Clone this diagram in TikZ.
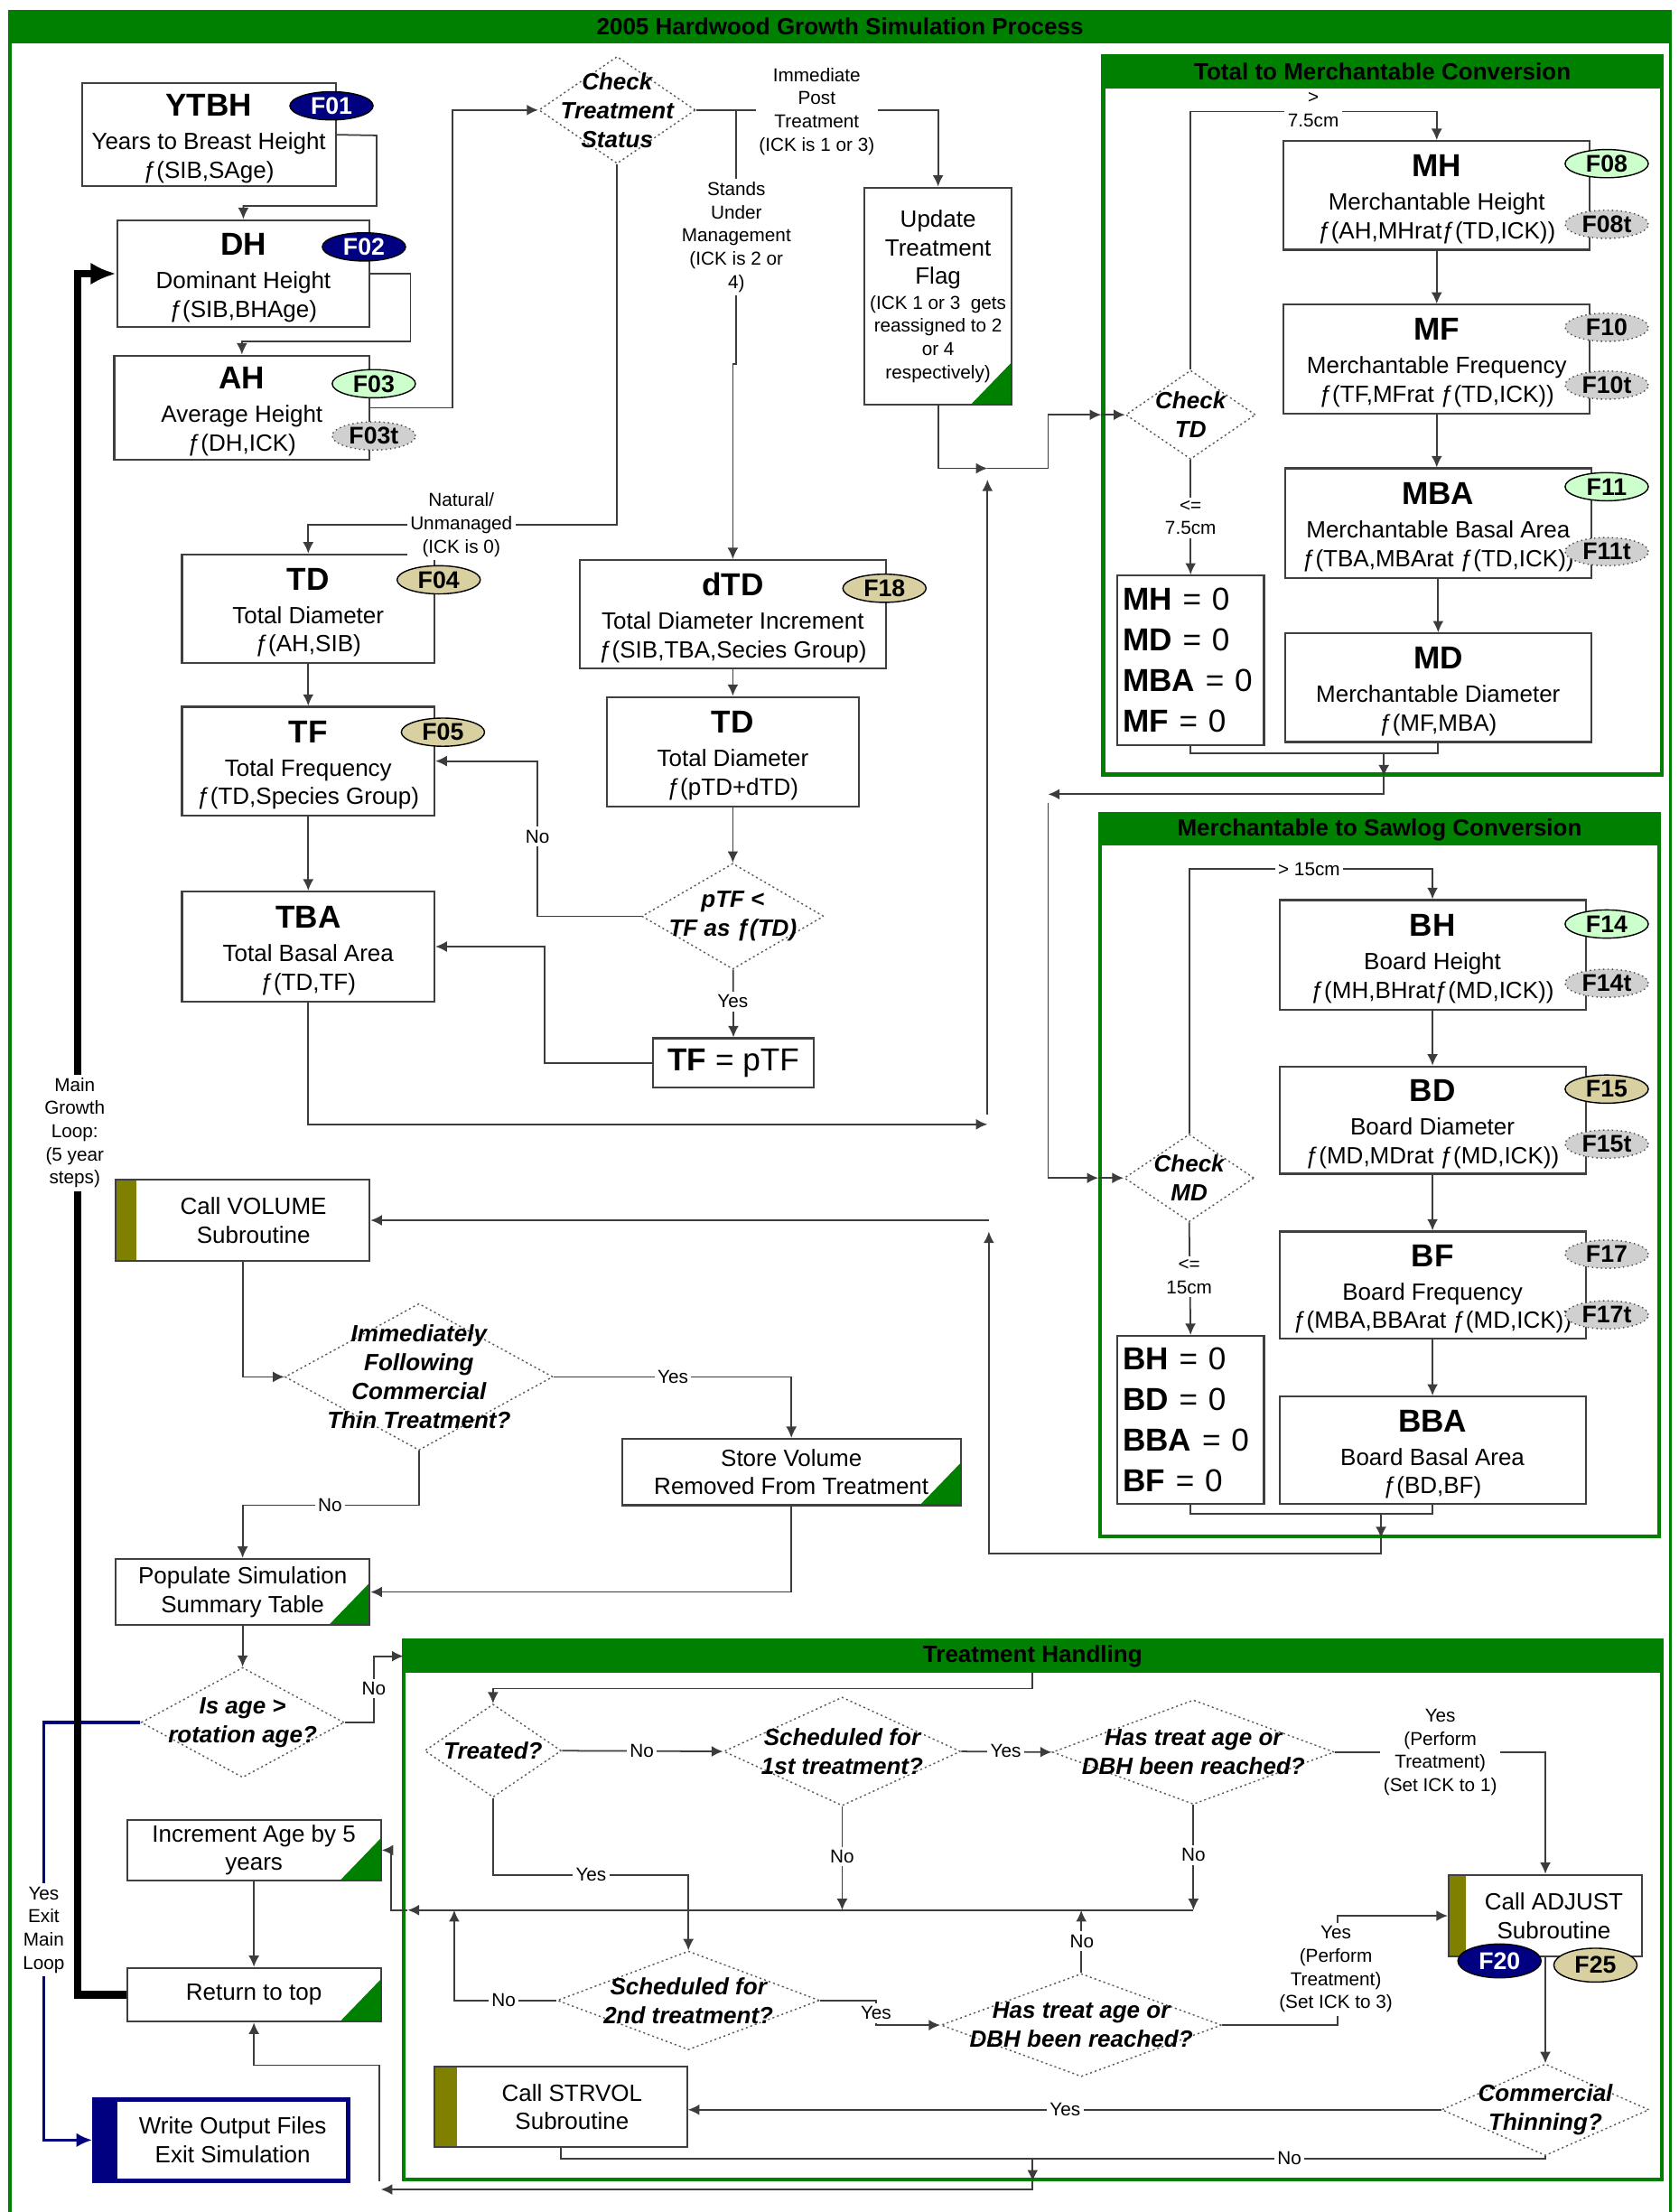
\documentclass[tikz,border=0pt]{standalone}
\usepackage{fontspec}
\setmainfont{Liberation Sans}
\usetikzlibrary{shapes.geometric, arrows.meta, positioning}

\definecolor{hdgreen}{RGB}{0,128,0}
\definecolor{oliv}{RGB}{128,128,0}
\definecolor{bnavy}{RGB}{0,0,128}
\definecolor{bgreen}{RGB}{204,255,204}
\definecolor{btan}{RGB}{216,208,160}
\definecolor{bgray}{RGB}{208,208,208}
\definecolor{lnclr}{RGB}{60,60,60}

\newcommand\bodyfont{\fontsize{7.4}{9}\selectfont}
\newcommand\lblfont{\fontsize{5.9}{7.3}\selectfont}
\newcommand\bigfont{\fontsize{10}{12}\selectfont\bfseries}
\newcommand\zerofont{\fontsize{10}{12.75}\selectfont}
\newcommand\hd[1]{{\bigfont\rule{0pt}{9.4pt}#1}}

\begin{document}
\begin{tikzpicture}[x=0.15622mm, y=-0.15622mm,
  every node/.style={font=\bodyfont, align=center, inner sep=1pt},
  sz/.style 2 args={minimum width=#1*0.15622mm, minimum height=#2*0.15622mm},
  box/.style={draw=black!75, fill=white, line width=0.6pt},
  doc/.style={box, path picture={\fill[hdgreen] (path picture bounding box.south east)
      -- ++(0,-30) -- ++(-29,30) -- cycle;}},
  sub/.style 2 args={box, path picture={\fill[#1] (path picture bounding box.south west)
      rectangle ([xshift=#2]path picture bounding box.north west);}},
  dia/.style={diamond, draw=black!65, line width=0.4pt, dash pattern=on 0.6pt off 0.9pt,
      fill=white, inner sep=0pt},
  dtxt/.style={font=\fontsize{7.4}{9.1}\selectfont\bfseries\itshape, align=center},
  badge/.style={ellipse, sz={59}{20}, inner sep=0pt, font=\fontsize{7.6}{8}\selectfont\bfseries},
  fnavy/.style={badge, draw=black, fill=bnavy, text=white},
  fgreen/.style={badge, draw=black, fill=bgreen},
  ftan/.style={badge, draw=black, fill=btan},
  fgray/.style={badge, draw=black!70, densely dotted, fill=bgray},
  sect/.style={draw=hdgreen, line width=1.2pt},
  sechdr/.style={fill=hdgreen, draw=hdgreen, inner sep=0pt, font=\fontsize{7.4}{9}\selectfont\bfseries},
  lbl/.style={font=\lblfont, fill=white, inner sep=1pt},
  arr/.style={-{Latex[length=3.6pt,width=3.4pt]}, draw=lnclr, line width=0.5pt},
  ln/.style={draw=lnclr, line width=0.5pt},
  loopln/.style={-{Latex[length=8pt,width=7pt]}, line width=2.4pt},
  exitln/.style={-{Latex[length=5pt,width=4.5pt]}, draw=bnavy, line width=1pt}
]
  \useasboundingbox (0,0) rectangle (1190,1568);

  \draw[hdgreen, line width=1pt] (7,1568) -- (7,8) -- (1184,8) -- (1184,1568);
  \node (title) at (595.5,19) [sechdr, sz={1178}{23}] {2005 Hardwood Growth Simulation Process};

  \node (s1)  at (980,294.5) [sect, sz={396}{509}] {};
  \node (s1h) at (980,51)    [sechdr, sz={396}{22}] {Total to Merchantable Conversion};
  \node (s2)  at (978,833)   [sect, sz={396}{512}] {};
  \node (s2h) at (978,588)   [sechdr, sz={396}{22}] {Merchantable to Sawlog Conversion};
  \node (th)  at (732,1354)  [sect, sz={892}{382}] {};
  \node (thh) at (732,1174)  [sechdr, sz={892}{22}] {Treatment Handling};

  \node (ytbh) at (148,95.5) [box, sz={180}{73}]
       {\hd{YTBH}\\[1.5pt] Years to Breast Height\\ ƒ(SIB,SAge)};
  \node (dh)   at (172.5,194) [box, sz={179}{76}]
       {\hd{DH}\\[1.5pt] Dominant Height\\ ƒ(SIB,BHAge)};
  \node (ah)   at (171.5,289) [box, sz={181}{74}]
       {\hd{AH}\\[1.5pt] Average Height\\ ƒ(DH,ICK)};
  \node (td)   at (218.5,431.5) [box, sz={179}{77}]
       {\hd{TD}\\[1.5pt] Total Diameter\\ ƒ(AH,SIB)};
  \node (tf)   at (218.5,539.5) [box, sz={179}{77}]
       {\hd{TF}\\[1.5pt] Total Frequency\\ ƒ(TD,Species Group)};
  \node (tba)  at (218.5,671) [box, sz={179}{78}]
       {\hd{TBA}\\[1.5pt] Total Basal Area\\ ƒ(TD,TF)};
  \node (dtd)  at (519.5,435.5) [box, sz={217}{77}]
       {\hd{dTD}\\[1.5pt] Total Diameter Increment\\ ƒ(SIB,TBA,Secies Group)};
  \node (tdb)  at (519.5,533) [box, sz={179}{78}]
       {\hd{TD}\\[1.5pt] Total Diameter\\ ƒ(pTD+dTD)};
  \node (tfeq) at (520,753.5) [box, sz={114}{35}, font=\zerofont] {\textbf{TF} = pTF};
  \node (upd)  at (665,210) [doc, sz={104}{154}]
       {Update\\ Treatment\\ Flag\\[-1.2pt] {\lblfont (ICK 1 or 3\ \ gets}\\[-1.7pt]
        {\lblfont reassigned to 2}\\[-1.7pt] {\lblfont or 4}\\[-1.7pt] {\lblfont respectively)}};

  \node (cts) at (437.5,78) [dia, sz={111}{76},
        label={[dtxt]center:{Check\\Treatment\\Status}}] {};
  \node (ptf) at (519.5,649.5) [dia, sz={129}{75},
        label={[dtxt]center:{pTF <\\TF as ƒ(TD)}}] {};

  \node (ctd) at (844,294) [dia, sz={92}{63}, label={[dtxt]center:{Check\\TD}}] {};
  \node (mh)  at (1018.5,138.5) [box, sz={217}{77}]
       {\hd{MH}\\[1.5pt] Merchantable Height\\ ƒ(AH,MHratƒ(TD,ICK))};
  \node (mf)  at (1018.5,254.5) [box, sz={217}{77}]
       {\hd{MF}\\[1.5pt] Merchantable Frequency\\ ƒ(TF,MFrat ƒ(TD,ICK))};
  \node (mba) at (1019.5,371) [box, sz={217}{78}]
       {\hd{MBA}\\[1.5pt] Merchantable Basal Area\\ ƒ(TBA,MBArat ƒ(TD,ICK))};
  \node (md)  at (1019.5,487.5) [box, sz={217}{77}]
       {\hd{MD}\\[1.5pt] Merchantable Diameter\\ ƒ(MF,MBA)};
  \node (zm)  at (844,468) [box, sz={104}{120}, align=left, text width=15mm, font=\zerofont]
       {\textbf{MH} = 0\\ \textbf{MD} = 0\\ \textbf{MBA} = 0\\ \textbf{MF} = 0};

  \node (cmd) at (843,835) [dia, sz={92}{62}, label={[dtxt]center:{Check\\MD}}] {};
  \node (bh)  at (1015.5,677) [box, sz={217}{78}]
       {\hd{BH}\\[1.5pt] Board Height\\ ƒ(MH,BHratƒ(MD,ICK))};
  \node (bd)  at (1015.5,794) [box, sz={217}{76}]
       {\hd{BD}\\[1.5pt] Board Diameter\\ ƒ(MD,MDrat ƒ(MD,ICK))};
  \node (bf)  at (1015.5,911) [box, sz={217}{76}]
       {\hd{BF}\\[1.5pt] Board Frequency\\ ƒ(MBA,BBArat ƒ(MD,ICK))};
  \node (bba) at (1015.5,1028) [box, sz={217}{76}]
       {\hd{BBA}\\[1.5pt] Board Basal Area\\ ƒ(BD,BF)};
  \node (zb)  at (844,1006.5) [box, sz={104}{119}, align=left, text width=15mm, font=\zerofont]
       {\textbf{BH} = 0\\ \textbf{BD} = 0\\ \textbf{BBA} = 0\\ \textbf{BF} = 0};

  \node (vol)   at (172,865) [sub={oliv}{2.34mm}, sz={180}{58},
        label={[xshift=1.2mm]center:{Call VOLUME\\Subroutine}}] {};
  \node (ifct)  at (297,976) [dia, sz={190}{104},
        label={[dtxt]center:{Immediately\\Following\\Commercial\\Thin Treatment?}}] {};
  \node (store) at (561,1043.5) [doc, sz={240}{47}] {Store Volume\\ Removed From Treatment};
  \node (pop)   at (172,1128.5) [doc, sz={180}{47}] {Populate Simulation\\ Summary Table};
  \node (isage) at (172,1221) [dia, sz={144}{78},
        label={[dtxt]center:{Is age >\\rotation age?}}] {};
  \node (inc)   at (180,1311.5) [doc, sz={180}{43}] {Increment Age by 5\\ years};
  \node (ret)   at (180,1414) [doc, sz={180}{38}] {Return to top};
  \node (wout)  at (157,1517) [sub={bnavy}{2.5mm}, sz={180}{58}, draw=bnavy, line width=1.4pt,
        label={[xshift=1.25mm]center:{Write Output Files\\Exit Simulation}}] {};

  \node (trt) at (349.5,1241) [dia, sz={97}{66}, label={[dtxt]center:{Treated?}}] {};
  \node (sd1) at (597,1241.5) [dia, sz={168}{77},
        label={[dtxt]center:{Scheduled for\\1st treatment?}}] {};
  \node (ht1) at (846,1242) [dia, sz={200}{74},
        label={[dtxt]center:{Has treat age or\\DBH been reached?}}] {};
  \node (sd2) at (488,1418) [dia, sz={186}{70},
        label={[dtxt]center:{Scheduled for\\2nd treatment?}}] {};
  \node (ht2) at (766.5,1435.5) [dia, sz={199}{73},
        label={[dtxt]center:{Has treat age or\\DBH been reached?}}] {};
  \node (ct)  at (1095.5,1495.5) [dia, sz={147}{65},
        label={[dtxt]center:{Commercial\\Thinning?}}] {};
  \node (adj)  at (1095.5,1358) [sub={oliv}{1.9mm}, sz={137}{58},
        label={[xshift=0.95mm]center:{Call ADJUST\\Subroutine}}] {};
  \node (strv) at (397.5,1493.5) [sub={oliv}{2.5mm}, sz={179}{57},
        label={[xshift=1.25mm]center:{Call STRVOL\\Subroutine}}] {};

  \coordinate (brk)   at (522,78);
  \coordinate (ja)    at (700,332);
  \coordinate (jaup)  at (700,340);
  \coordinate (jb)    at (700,797);
  \coordinate (jbup)  at (700,790);
  \coordinate (jc)    at (981,534);
  \coordinate (jd)    at (743,563);
  \coordinate (jdlow) at (743,569);
  \coordinate (je)    at (979,1073);
  \coordinate (jf)    at (701,873);
  \coordinate (jg)    at (701,865);
  \coordinate (thin)  at (286,1174);
  \coordinate (bus)   at (846,1354);
  \coordinate (busl)  at (289,1354);
  \coordinate (bus2)  at (322,1354);
  \coordinate (jn)    at (732,1530);
  \coordinate (jp)    at (270,1552);
  \coordinate (jq)    at (269,1546);

  \draw[arr] (ytbh.east) -- (267,96) |- (dh.north |- 0,146) -- (dh.north);
  \draw[arr] (dh.east) -- (291,194) |- (ah.north |- 0,242) -- (ah.north);
  \draw[arr] (ah.east) -- (321,289) |- (cts.west);
  \draw[arr] (cts.east) -| (upd.north);
  \draw[arr] (brk) -- (522,258) -- (dtd.north |- 0,258) -- (dtd.north);
  \draw[arr] (cts.south) |- (td.north |- 0,372) -- (td.north);
  \draw[arr] (td) -- (tf);
  \draw[arr] (tf) -- (tba);
  \draw[arr] (dtd) -- (tdb);
  \draw[arr] (tdb) -- (ptf);
  \draw[arr] (ptf.west) -- (381,649.5) |- (tf.east);
  \draw[arr] (ptf) -- (tfeq);
  \draw[arr] (tfeq.west) -- (386,753.5) |- (tba.east);
  \draw[arr] (upd.south) |- (ja);
  \draw[arr] (ja) -- (743,332) |- (s1.west |- ctd.west);
  \draw[arr] (s1.west |- ctd.west) -- (ctd.west);
  \draw[arr] (tba.south) |- (jb);
  \draw[arr] (jbup) -- (jaup);

  \draw[arr] (ctd.north) |- (mh.north |- 0,79) -- (mh.north);
  \draw[arr] (ctd.south) -- (zm.north);
  \draw[arr] (mh) -- (mf);
  \draw[arr] (mf.south) -- (mf.south |- mba.north);
  \draw[arr] (mba) -- (md);
  \draw[ln]  (zm.south) |- (jc) -| (md.south);
  \draw[arr] (jc) -- (jc |- s1.south);
  \draw[arr] (jc |- s1.south) -- (981,563) -- (jd);
  \draw[arr] (jdlow) |- (s2.west |- cmd.west);
  \draw[arr] (s2.west |- cmd.west) -- (cmd.west);

  \draw[arr] (cmd.north) |- (bh.north |- 0,616) -- (bh.north);
  \draw[arr] (cmd.south) -- (zb.north);
  \draw[arr] (bh) -- (bd);
  \draw[arr] (bd) -- (bf);
  \draw[arr] (bf) -- (bba);
  \draw[ln]  (zb.south) |- (je) -| (bba.south);
  \draw[arr] (je) -- (je |- s2.south);
  \draw[arr] (je |- s2.south) -- (979,1101) -| (jf);
  \draw[arr] (jg) -- (vol.east);

  \draw[arr] (vol.south) |- (ifct.west);
  \draw[arr] (ifct.east) -| (store.north);
  \draw[arr] (ifct.south) -- (297,1067) -| (pop.north);
  \draw[arr] (store.south) |- (pop.east);
  \draw[arr] (pop) -- (isage);
  \draw[arr] (isage.east) -- (265,1221) |- (thin);
  \draw[exitln] (isage.west) -- (31,1221) |- (wout.west);
  \draw[loopln] (ret.west) -- (55,1414) |- (dh.west);
  \draw[arr] (inc) -- (ret);
  \draw[arr] (busl) -- (277,1354) |- (inc.east);
  \draw[arr] (jn |- th.south) -- (732,1552) -- (jp);
  \draw[arr] (jq) |- (ret.south |- 0,1464) -- (ret.south);

  \draw[arr] (thh.south) -- (732,1197) -| (trt.north);
  \draw[arr] (trt.east) -- (sd1.west);
  \draw[arr] (sd1.east) -- (ht1.west);
  \draw[arr] (ht1.east) -| (adj.north);
  \draw[arr] (sd1.south) -- (sd1.south |- bus);
  \draw[arr] (ht1.south) -- (bus);
  \draw[arr] (bus) -- (busl);
  \draw[arr] (trt.south) -- (349.5,1329) -| (sd2.north);
  \draw[arr] (sd2.west) -| (bus2);
  \draw[arr] (sd2.east) -- (621,1418) -- (621,1435.5) -- (ht2.west);
  \draw[arr] (ht2.north) -- (ht2.north |- bus);
  \draw[arr] (ht2.east) -- (948,1435.5) |- (adj.west);
  \draw[arr] (adj) -- (ct);
  \draw[arr] (ct.west) -- (ct.west -| strv.east);
  \draw[ln]  (ct.south) |- (jn) -| (strv.south);
  \draw[arr] (jn) -- (jn |- th.south);

  \node (l1)  at (579,79)    [lbl] {Immediate\\Post\\Treatment\\(ICK is 1 or 3)};
  \node (l2)  at (522,168)   [lbl] {Stands\\Under\\Management\\(ICK is 2 or\\4)};
  \node (l3)  at (327,372)   [lbl] {Natural/\\Unmanaged\\(ICK is 0)};
  \node (l4)  at (381,593)   [lbl] {No};
  \node (l5)  at (519.5,710) [lbl] {Yes};
  \node (l6)  at (931,78)    [lbl] {>\\7.5cm};
  \node (l7)  at (844,367)   [lbl] {<=\\7.5cm};
  \node (l8)  at (928,616)   [lbl] {> 15cm};
  \node (l9)  at (843,905)   [lbl] {<=\\15cm};
  \node (l10) at (477,976)   [lbl] {Yes};
  \node (l11) at (234,1067)  [lbl] {No};
  \node (l12) at (265,1197)  [lbl] {No};
  \node (l13) at (31,1368)   [lbl] {Yes\\Exit\\Main\\Loop};
  \node (l14) at (53,803)    [lbl] {Main\\Growth\\Loop:\\(5 year\\steps)};
  \node (l15) at (455,1241)  [lbl] {No};
  \node (l16) at (713,1241)  [lbl] {Yes};
  \node (l17) at (1021,1242) [lbl] {Yes\\(Perform\\Treatment)\\(Set ICK to 1)};
  \node (l18) at (597,1316)  [lbl] {No};
  \node (l19) at (846,1315)  [lbl] {No};
  \node (l20) at (419,1329)  [lbl] {Yes};
  \node (l21) at (357,1418)  [lbl] {No};
  \node (l22) at (621,1427)  [lbl] {Yes};
  \node (l23) at (767,1376)  [lbl] {No};
  \node (l24) at (947,1396)  [lbl] {Yes\\(Perform\\Treatment)\\(Set ICK to 3)};
  \node (l25) at (755,1495)  [lbl] {Yes};
  \node (l26) at (914,1530)  [lbl] {No};

  \node (f01)  at (235,75)   [fnavy]  {F01};
  \node (f02)  at (258,175)  [fnavy]  {F02};
  \node (f03)  at (265,272)  [fgreen] {F03};
  \node (f03t) at (265,309)  [fgray]  {F03t};
  \node (f04)  at (311,411)  [ftan]   {F04};
  \node (f05)  at (314,519)  [ftan]   {F05};
  \node (f18)  at (627,417)  [ftan]   {F18};
  \node (f08)  at (1139,116) [fgreen] {F08};
  \node (f08t) at (1139,159) [fgray]  {F08t};
  \node (f10)  at (1139,232) [fgray]  {F10};
  \node (f10t) at (1139,273) [fgray]  {F10t};
  \node (f11)  at (1139,345) [fgreen] {F11};
  \node (f11t) at (1139,391) [fgray]  {F11t};
  \node (f14)  at (1139,655) [fgreen] {F14};
  \node (f14t) at (1139,697) [fgray]  {F14t};
  \node (f15)  at (1139,772) [ftan]   {F15};
  \node (f15t) at (1139,811) [fgray]  {F15t};
  \node (f17)  at (1139,889) [fgray]  {F17};
  \node (f17t) at (1139,932) [fgray]  {F17t};
  \node (f20)  at (1063,1390) [fnavy, sz={59}{24}] {F20};
  \node (f25)  at (1131,1393) [ftan, sz={59}{24}]  {F25};
\end{tikzpicture}
\end{document}
